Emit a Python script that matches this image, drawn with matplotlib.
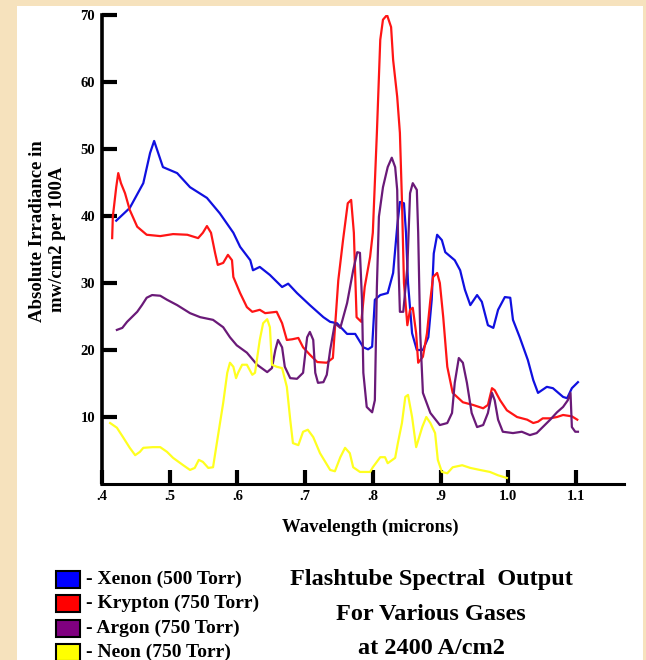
import numpy as np
import matplotlib.pyplot as plt
from matplotlib.patches import Rectangle

# Xenon (500 Torr)
xe_w = [0.421, 0.441, 0.461, 0.471, 0.477, 0.483, 0.490, 0.511, 0.530, 0.555, 0.574, 0.594,
        0.604, 0.619, 0.623, 0.633, 0.648, 0.666, 0.675, 0.688, 0.707, 0.727, 0.737, 0.747,
        0.762, 0.774, 0.786, 0.793, 0.799, 0.803, 0.811, 0.822, 0.830, 0.836, 0.840, 0.846,
        0.849, 0.852, 0.858, 0.865, 0.874, 0.882, 0.887, 0.890, 0.895, 0.902, 0.907, 0.921,
        0.929, 0.936, 0.944, 0.954, 0.961, 0.970, 0.978, 0.985, 0.995, 1.003, 1.007, 1.017,
        1.029, 1.037, 1.044, 1.057, 1.066, 1.081, 1.087, 1.094, 1.103]
xe_v = [39.3, 41.2, 44.9, 49.4, 51.2, 49.4, 47.3, 46.4, 44.3, 42.7, 40.4, 37.5,
        35.4, 33.4, 31.9, 32.4, 31.2, 29.4, 29.9, 28.5, 26.7, 24.9, 24.2, 24.0,
        22.4, 22.4, 20.4, 20.1, 20.5, 27.5, 28.2, 28.5, 31.5, 38.4, 42.1, 41.9,
        37.5, 30.0, 22.5, 20.0, 20.0, 21.9, 27.5, 34.4, 37.2, 36.4, 34.6, 33.4,
        31.9, 29.0, 26.7, 28.2, 27.2, 23.7, 23.3, 26.0, 27.9, 27.8, 24.5, 21.9,
        18.5, 15.5, 13.6, 14.5, 14.3, 13.0, 12.8, 14.3, 15.2]

# Krypton (750 Torr)
kr_w = [0.415, 0.416, 0.421, 0.424, 0.428, 0.434, 0.441, 0.452, 0.466, 0.486, 0.505, 0.526,
        0.542, 0.549, 0.555, 0.561, 0.567, 0.571, 0.579, 0.586, 0.592, 0.594, 0.604, 0.614,
        0.622, 0.633, 0.641, 0.658, 0.666, 0.673, 0.681, 0.690, 0.697, 0.707, 0.718, 0.732,
        0.741, 0.749, 0.756, 0.763, 0.768, 0.772, 0.776, 0.783, 0.788, 0.796, 0.800, 0.806,
        0.811, 0.815, 0.821, 0.827, 0.830, 0.836, 0.840, 0.843, 0.846, 0.851, 0.855, 0.859,
        0.864, 0.867, 0.874, 0.880, 0.885, 0.889, 0.895, 0.899, 0.904, 0.910, 0.918, 0.933,
        0.948, 0.963, 0.970, 0.976, 0.980, 0.988, 0.998, 1.013, 1.028, 1.037, 1.044, 1.051,
        1.062, 1.072, 1.081, 1.094, 1.102]
kr_v = [36.7, 39.9, 44.3, 46.4, 44.9, 43.4, 40.9, 38.4, 37.2, 37.0, 37.3, 37.2,
        36.7, 37.5, 38.5, 37.5, 34.5, 32.7, 33.0, 34.2, 33.4, 30.9, 28.5, 26.4,
        25.7, 26.0, 25.5, 25.7, 24.0, 21.5, 21.6, 21.8, 20.4, 19.3, 18.2, 18.1,
        18.8, 30.4, 36.4, 41.9, 42.4, 37.5, 24.9, 24.2, 29.4, 33.9, 37.5, 52.4,
        66.3, 69.3, 70.0, 68.2, 63.3, 57.8, 52.4, 42.4, 30.0, 23.7, 26.0, 26.3,
        22.5, 18.1, 19.0, 22.5, 27.5, 30.9, 31.5, 30.0, 24.9, 17.5, 13.6, 12.2,
        11.8, 11.3, 11.8, 14.3, 14.0, 12.5, 11.0, 10.0, 9.6, 9.1, 9.3, 9.8,
        9.8, 10.0, 10.3, 10.1, 9.6]

# Argon (750 Torr)
ar_w = [0.422, 0.430, 0.437, 0.444, 0.452, 0.459, 0.466, 0.474, 0.486, 0.496, 0.511, 0.530,
        0.545, 0.564, 0.579, 0.589, 0.599, 0.614, 0.629, 0.644, 0.651, 0.656, 0.660, 0.666,
        0.670, 0.678, 0.688, 0.697, 0.703, 0.707, 0.712, 0.715, 0.719, 0.727, 0.732, 0.737,
        0.744, 0.752, 0.762, 0.771, 0.777, 0.781, 0.784, 0.786, 0.791, 0.799, 0.803, 0.806,
        0.809, 0.815, 0.822, 0.828, 0.833, 0.836, 0.838, 0.840, 0.845, 0.851, 0.855, 0.859,
        0.865, 0.867, 0.870, 0.874, 0.885, 0.899, 0.910, 0.917, 0.921, 0.927, 0.933, 0.939,
        0.946, 0.954, 0.963, 0.970, 0.976, 0.980, 0.985, 0.992, 1.007, 1.020, 1.032, 1.042,
        1.051, 1.062, 1.072, 1.081, 1.088, 1.092, 1.094, 1.099, 1.103]
ar_v = [23.0, 23.3, 24.2, 24.9, 25.7, 26.7, 27.8, 28.2, 28.1, 27.5, 26.7, 25.5,
        24.9, 24.5, 23.4, 21.9, 20.7, 19.6, 17.8, 16.7, 17.3, 20.0, 21.5, 20.4,
        17.5, 15.8, 15.7, 16.6, 21.9, 22.7, 21.5, 16.6, 15.1, 15.2, 16.3, 20.0,
        24.0, 23.3, 27.0, 31.9, 34.6, 34.5, 27.5, 16.6, 11.5, 10.7, 12.5, 29.4,
        39.9, 44.3, 47.3, 48.7, 47.3, 43.9, 32.4, 25.7, 25.7, 32.4, 43.4, 44.9,
        43.9, 37.5, 22.5, 13.6, 10.6, 8.8, 9.1, 10.6, 15.1, 18.8, 18.1, 15.1,
        10.6, 8.5, 8.8, 10.6, 13.6, 12.5, 9.6, 7.8, 7.6, 7.8, 7.3, 7.6,
        8.5, 9.6, 10.7, 11.5, 12.5, 13.6, 8.5, 7.8, 7.8]

# Neon (750 Torr)
ne_w = [0.412, 0.422, 0.431, 0.441, 0.449, 0.456, 0.461, 0.475, 0.486, 0.496, 0.505, 0.520,
        0.530, 0.537, 0.543, 0.549, 0.557, 0.564, 0.571, 0.579, 0.585, 0.589, 0.594, 0.598,
        0.601, 0.607, 0.614, 0.622, 0.626, 0.633, 0.638, 0.644, 0.648, 0.651, 0.658, 0.666,
        0.673, 0.678, 0.682, 0.690, 0.697, 0.704, 0.712, 0.722, 0.737, 0.744, 0.752, 0.759,
        0.766, 0.771, 0.781, 0.796, 0.800, 0.811, 0.818, 0.822, 0.833, 0.837, 0.843, 0.848,
        0.852, 0.858, 0.864, 0.873, 0.879, 0.885, 0.892, 0.896, 0.902, 0.910, 0.918, 0.932,
        0.944, 0.958, 0.973, 0.985, 0.998]
ne_v = [9.1, 8.4, 7.0, 5.4, 4.3, 4.8, 5.4, 5.5, 5.5, 4.8, 3.9, 2.8,
        2.1, 2.4, 3.6, 3.3, 2.4, 2.5, 7.0, 12.1, 16.6, 18.1, 17.5, 15.8,
        16.6, 17.8, 17.8, 16.3, 16.6, 21.5, 24.0, 24.6, 23.4, 17.8, 17.5, 17.3,
        14.5, 9.6, 6.1, 5.8, 7.8, 8.1, 7.0, 4.6, 2.1, 1.9, 4.0, 5.4,
        4.6, 2.5, 1.8, 1.8, 2.5, 4.0, 4.0, 3.1, 3.9, 6.1, 9.1, 13.0,
        13.3, 10.0, 5.5, 8.5, 10.0, 9.1, 7.6, 3.6, 1.8, 1.6, 2.5, 2.8,
        2.4, 2.1, 1.8, 1.3, 0.9]

x_ticks = [0.4, 0.5, 0.6, 0.7, 0.8, 0.9, 1.0, 1.1]
x_labels = [".4", ".5", ".6", ".7", ".8", ".9", "1.0", "1.1"]
y_ticks = [10, 20, 30, 40, 50, 60, 70]

series_names = ["- Xenon (500 Torr)", "- Krypton (750 Torr)", "- Argon (750 Torr)", "- Neon (750 Torr)"]
line_colors = ["#1010e0", "#ff1515", "#6a1a78", "#ffff20"]
box_colors = ["#0000ff", "#ff0000", "#800080", "#ffff00"]

plt.rcParams['font.family'] = 'Liberation Serif'
plt.rcParams['font.weight'] = 'bold'

fig = plt.figure(figsize=(6.46, 6.60), dpi=100)
fig.patch.set_facecolor("#f6e2bd")
# white panel
fig.patches.append(Rectangle((17 / 646, 0), (643 - 17) / 646, (660 - 6) / 660,
                             transform=fig.transFigure, facecolor="white",
                             edgecolor="none", zorder=-10))

ax = fig.add_axes([102 / 646, (660 - 484) / 660, 522 / 646, 469 / 660])
ax.set_facecolor("none")
ax.set_zorder(5)

ax.plot(xe_w, xe_v, color=line_colors[0], lw=1.6)
ax.plot(kr_w, kr_v, color=line_colors[1], lw=1.6)
ax.plot(ar_w, ar_v, color=line_colors[2], lw=1.6)
ax.plot(ne_w, ne_v, color=line_colors[3], lw=1.6)

ax.set_xlim(0.4, 1.171)
ax.set_ylim(0, 70)
for s in ["top", "right"]:
    ax.spines[s].set_visible(False)
ax.spines["left"].set_linewidth(2.6)
ax.spines["bottom"].set_linewidth(2.2)

ax.set_xticks(x_ticks)
ax.set_xticklabels(x_labels, fontsize=10.5)
ax.set_yticks(y_ticks)
ax.set_yticklabels([str(v) for v in y_ticks], fontsize=10.5)
ax.tick_params(axis="y", direction="in", length=11, width=3, pad=5)
ax.tick_params(axis="x", direction="in", length=10, width=3, pad=4)

# axis titles
fig.text(370 / 646, 1 - 527 / 660, "Wavelength (microns)", fontsize=13.5,
         fontweight="bold", ha="center", va="center")
fig.text(38 / 646, 1 - 231 / 660, "Absolute Irradiance in", fontsize=13.5,
         fontweight="bold", ha="center", va="center", rotation=90)
fig.text(57 / 646, 1 - 239 / 660, "mw/cm2 per 100A", fontsize=13.5,
         fontweight="bold", ha="center", va="center", rotation=90)

# legend boxes
for i in range(4):
    yc = 1 - (579 + i * 24.5) / 660
    fig.patches.append(Rectangle((56 / 646, yc - 8.5 / 660), 24 / 646, 17 / 660,
                                 transform=fig.transFigure, facecolor=box_colors[i],
                                 edgecolor="black", lw=1.5, zorder=3))
    fig.text(86 / 646, yc, series_names[i], fontsize=14, fontweight="bold",
             va="center", ha="left")

fig.text(431 / 646, 1 - 579 / 660, "Flashtube Spectral  Output", fontsize=17.5,
         fontweight="bold", ha="center", va="center")
fig.text(431 / 646, 1 - 614 / 660, "For Various Gases", fontsize=17.5,
         fontweight="bold", ha="center", va="center")
fig.text(431 / 646, 1 - 648 / 660, "at 2400 A/cm2", fontsize=17.5,
         fontweight="bold", ha="center", va="center")

fig.savefig("out.png", dpi=100, facecolor=fig.get_facecolor())
